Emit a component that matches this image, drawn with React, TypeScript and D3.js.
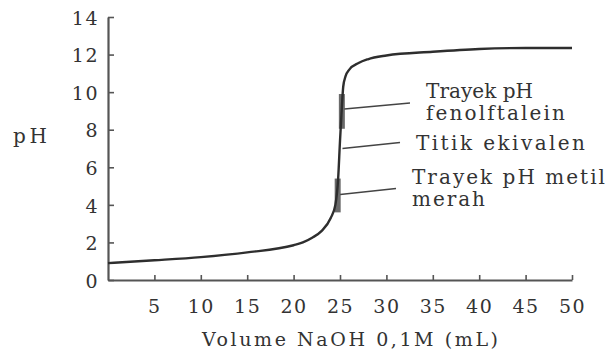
import React, { useEffect, useRef } from 'react'
import * as d3 from 'd3'

// titration curve: strong acid (HCl) with NaOH 0,1M
const volume = [0, 5, 10, 15, 20, 21, 22, 23, 24, 24.5, 24.8, 25, 25.2, 25.35, 25.6, 26, 27, 28, 30, 35, 40, 45, 50]
const phValues = [0.9, 1.05, 1.22, 1.47, 1.85, 2.0, 2.25, 2.6, 3.3, 4.0, 5.4, 7.4, 9.2, 10.3, 10.85, 11.2, 11.55, 11.75, 11.95, 12.15, 12.3, 12.35, 12.35]

const yTicks = [0, 2, 4, 6, 8, 10, 12, 14]
const xTicks = [5, 10, 15, 20, 25, 30, 35, 40, 45, 50]

// indicator ranges drawn on the curve
const indicatorNames = ['fenolftalein', 'metil merah']
const indicatorVol = [25.2, 24.75]
const indicatorLow = [8.05, 3.6]
const indicatorHigh = [9.9, 5.4]

// callouts: pH on the curve where the leader line starts
const calloutPh = [9.1, 7.0, 4.55]
const calloutVol = [25.25, 25.05, 24.8]
const calloutLines = [['Trayek pH', 'fenolftalein'], ['Titik ekivalen'], ['Trayek pH metil', 'merah']]
const calloutWidths = [[107, 139], [169], [193, 73]]

const xLabel = 'Volume NaOH 0,1M (mL)'
const yLabel = 'pH'

const W = 613
const H = 356
const FONT = '"DejaVu Serif", "Liberation Serif", serif'
const INK = '#333'

const TitrationChart = () => {
  const ref = useRef(null)

  useEffect(() => {
    const svg = d3.select(ref.current)
    svg.selectAll('*').remove()

    const x = d3.scaleLinear().domain([0, 50]).range([108, 572])
    const y = d3.scaleLinear().domain([0, 14]).range([280, 17])

    const xAxis = d3.axisBottom(x).tickValues(xTicks).tickSize(-5).tickSizeOuter(0).tickPadding(20)
    const yAxis = d3.axisLeft(y).tickValues(yTicks).tickSize(-6).tickSizeOuter(0).tickPadding(9)

    const gx = svg.append('g').attr('transform', `translate(0,${y(0)})`).call(xAxis)
    const gy = svg.append('g').attr('transform', `translate(${x(0)},0)`).call(yAxis)

    ;[gx, gy].forEach(g => {
      g.select('.domain').attr('stroke', '#555').attr('stroke-width', 2.2)
      g.selectAll('.tick line').attr('stroke', '#555').attr('stroke-width', 1.6)
      g.selectAll('.tick text')
        .style('font-family', FONT)
        .attr('font-size', 19)
        .attr('letter-spacing', 1.5)
        .attr('fill', INK)
    })
    gy.selectAll('.tick text').attr('dy', '0.38em')

    // indicator bars
    indicatorNames.forEach((n, i) => {
      svg.append('rect')
        .attr('x', x(indicatorVol[i]) - 3)
        .attr('y', y(indicatorHigh[i]))
        .attr('width', 6)
        .attr('height', y(indicatorLow[i]) - y(indicatorHigh[i]))
        .attr('fill', '#6a6a6a')
    })

    const pts = volume.map((v, i) => [v, phValues[i]])
    const line = d3.line()
      .x(d => x(d[0]))
      .y(d => y(d[1]))
      .curve(d3.curveMonotoneX)

    svg.append('path')
      .datum(pts)
      .attr('d', line)
      .attr('fill', 'none')
      .attr('stroke', '#2e2e2e')
      .attr('stroke-width', 2.4)

    // callouts
    const textX = [426, 416, 412]
    calloutPh.forEach((ph, i) => {
      const x0 = x(calloutVol[i]) + 2
      const y0 = y(ph)
      svg.append('line')
        .attr('x1', x0).attr('y1', y0)
        .attr('x2', textX[i] - 16).attr('y2', y0 - 6)
        .attr('stroke', '#444')
        .attr('stroke-width', 1.5)
      calloutLines[i].forEach((t, j) => {
        const base = i === 1 ? y0 + 1 : y0 - 11 + j * 22
        svg.append('text')
          .attr('x', textX[i])
          .attr('y', base)
          .style('font-family', FONT)
          .attr('font-size', 20)
          .attr('textLength', calloutWidths[i][j])
          .attr('lengthAdjust', 'spacing')
          .attr('fill', INK)
          .text(t)
      })
    })

    svg.append('text')
      .attr('x', 202)
      .attr('y', 346)
      .style('font-family', FONT)
      .attr('font-size', 19)
      .attr('textLength', 296)
      .attr('lengthAdjust', 'spacing')
      .attr('fill', INK)
      .text(xLabel)

    svg.append('text')
      .attr('x', 13)
      .attr('y', 143)
      .style('font-family', FONT)
      .attr('font-size', 20)
      .attr('textLength', 34)
      .attr('lengthAdjust', 'spacing')
      .attr('fill', INK)
      .text(yLabel)
  }, [])

  return (
    <svg
      ref={ref}
      width={W}
      height={H}
      style={{ position: 'absolute', left: 0, top: 0, background: '#fff' }}
    />
  )
}

export default function App() {
  return <TitrationChart />
}
